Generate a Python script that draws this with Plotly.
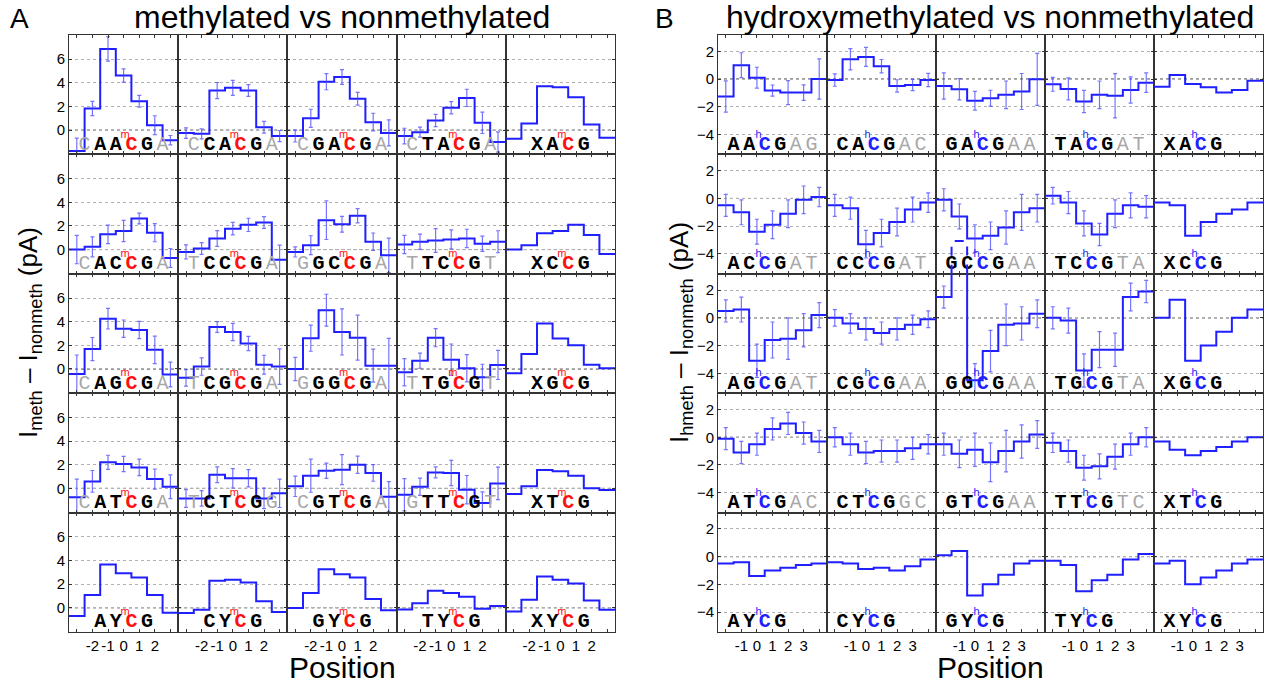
import plotly.graph_objects as go

W, H = 1265, 686

# ---------------- data ----------------
pos_A = [-3, -2, -1, 0, 1, 2, 3]
pos_B = [-2, -1, 0, 1, 2, 3, 4]
xlabels_A = [-2, -1, 0, 1, 2]
xlabels_B = [-1, 0, 1, 2, 3]
yticks_A = [0, 2, 4, 6]
yticks_B = [-4, -2, 0, 2]

A_seq_row1 = ["CAACGA", "CCACGA", "CGACGA", "CTACGA", "XACG"]
A_seq_row2 = ["CACCGA", "TCCCGA", "GGCCGA", "TTCCGT", "XCCG"]
A_seq_row3 = ["CAGCGA", "TCGCGA", "GGGCGA", "TTGCGT", "XGCG"]
A_seq_row4 = ["CATCGA", "TCTCGG", "CGTCGA", "GTTCGT", "XTCG"]
A_seq_row5 = ["AYCG", "CYCG", "GYCG", "TYCG", "XYCG"]

B_seq_row1 = ["AACGAG", "CACGAC", "GACGAA", "TACGAT", "XACG"]
B_seq_row2 = ["ACCGAT", "CCCGAT", "GCCGAA", "TCCGTA", "XCCG"]
B_seq_row3 = ["AGCGAT", "CGCGAA", "GGCGAA", "TGCGTA", "XGCG"]
B_seq_row4 = ["ATCGAC", "CTCGGC", "GTCGAA", "TTCGTC", "XTCG"]
B_seq_row5 = ["AYCG", "CYCG", "GYCG", "TYCG", "XYCG"]

A_row1 = [[-1.77, 1.83, 6.87, 4.62, 2.45, 0.42, -0.85],
          [-0.25, -0.31, 3.35, 3.58, 3.35, 0.25, -0.50],
          [-0.50, 1.00, 4.10, 4.50, 2.65, 0.68, -0.23],
          [-0.50, -0.17, 0.82, 1.89, 2.73, 0.62, -1.00],
          [-0.73, 0.56, 3.72, 3.63, 2.79, 0.48, -0.65]]
A_err_row1 = [[1.10, 0.60, 1.03, 0.56, 0.50, 0.80, 0.40],
              [0.45, 0.42, 0.68, 0.63, 0.50, 0.50, 0.47],
              [0.50, 0.77, 0.68, 0.62, 0.54, 0.75, 1.10],
              [0.66, 0.42, 0.52, 0.52, 0.73, 0.90, 0.85],
              None]
A_row2 = [[0.00, 0.23, 1.29, 1.57, 2.63, 1.43, -0.71],
          [-0.20, 0.09, 0.94, 1.77, 2.09, 2.29, -0.86],
          [-0.20, 0.37, 2.49, 2.14, 2.86, 0.66, -0.49],
          [0.43, 0.66, 0.77, 0.86, 0.94, 0.49, 0.66],
          [0.00, 0.37, 1.37, 1.57, 2.09, 1.23, -0.37]]
A_err_row2 = [[1.20, 0.85, 0.78, 0.90, 0.46, 0.77, 0.80],
              [0.60, 0.50, 0.67, 0.53, 0.56, 0.50, 1.23],
              [0.43, 0.80, 1.64, 0.67, 0.60, 0.74, 1.46],
              [0.77, 0.64, 1.00, 0.80, 0.78, 0.64, 0.93],
              None]
A_row3 = [[-0.42, 1.68, 4.25, 3.41, 3.30, 1.62, -0.47],
          [-0.75, 0.20, 3.55, 3.13, 2.15, 0.36, 0.20],
          [0.00, 2.60, 4.97, 3.13, 2.65, 0.28, 0.28],
          [-0.28, 0.70, 2.65, 0.78, 0.06, -0.70, 0.34],
          [-0.36, 1.26, 3.85, 2.57, 2.00, 0.36, 0.06]]
A_err_row3 = [[1.60, 0.98, 0.87, 0.73, 0.73, 1.16, 1.05],
              [0.70, 0.73, 0.45, 0.73, 0.60, 0.80, 1.50],
              [0.98, 1.10, 1.35, 1.95, 1.90, 1.40, 2.30],
              [1.15, 0.64, 0.77, 1.33, 1.15, 1.10, 1.23],
              None]
A_row4 = [[-0.76, 0.59, 2.20, 2.06, 1.77, 0.79, 0.14],
          [-0.85, -0.85, 1.15, 0.85, 0.85, -0.85, -0.42],
          [0.17, 1.07, 1.49, 1.58, 2.00, 1.30, -0.70],
          [-0.54, 0.14, 1.35, 1.30, -0.11, -1.24, 0.42],
          [-0.48, 0.17, 1.55, 1.44, 1.07, 0.00, -0.14]]
A_err_row4 = [[1.55, 0.92, 0.60, 0.65, 0.70, 0.85, 1.00],
              [0.75, 0.66, 0.66, 0.82, 0.73, 0.87, 1.20],
              [0.86, 1.40, 0.65, 1.27, 0.73, 0.70, 1.27],
              [1.37, 0.73, 0.46, 1.06, 1.20, 0.94, 1.38],
              None]
A_row5 = [[-0.69, 1.08, 3.67, 2.92, 2.56, 1.08, -0.42],
          [-0.44, -0.17, 2.28, 2.36, 2.14, 0.56, -0.36],
          [-0.03, 1.25, 3.25, 2.83, 2.56, 0.75, -0.22],
          [-0.14, 0.39, 1.44, 1.25, 0.94, -0.08, 0.14],
          [-0.31, 0.67, 2.64, 2.36, 2.06, 0.61, -0.17]]
A_err_row5 = [None, None, None, None, None]

B_row1 = [[-1.26, 1.00, 0.10, -0.83, -0.98, -0.98, 0.00],
          [-0.07, 1.43, 1.60, 0.93, -0.50, -0.43, -0.07],
          [-0.50, -0.74, -1.57, -1.38, -1.14, -0.90, -0.02],
          [-0.38, -0.71, -1.62, -1.14, -1.21, -0.79, -0.26],
          [-0.55, 0.29, -0.36, -0.60, -0.98, -0.79, -0.12]]
B_err_row1 = [[1.13, 0.90, 0.75, 0.40, 0.86, 0.56, 1.45],
              [0.45, 0.77, 0.69, 0.48, 0.45, 0.40, 0.48],
              [0.95, 0.77, 0.68, 0.57, 1.00, 1.30, 1.88],
              [0.50, 0.80, 0.80, 1.00, 1.60, 0.95, 0.70],
              None]
B_row2 = [[-0.50, -1.00, -2.40, -1.90, -1.10, -0.10, 0.10],
          [-0.50, -0.70, -3.30, -2.50, -1.70, -0.80, -0.30],
          [-0.10, -1.30, -2.90, -2.70, -2.10, -1.00, -0.70],
          [0.20, -0.30, -1.80, -2.60, -1.10, -0.50, -0.60],
          [-0.30, -0.50, -2.70, -1.70, -1.10, -0.80, -0.30]]
B_err_row2 = [[0.80, 0.90, 0.90, 1.00, 1.00, 1.00, 0.70],
              [0.80, 0.80, 1.00, 1.00, 1.00, 0.90, 0.70],
              [0.80, 0.90, 1.00, 1.00, 1.20, 1.30, 1.00],
              [0.60, 0.80, 0.90, 0.80, 1.00, 0.90, 0.80],
              None]
B_row3 = [[0.50, 0.60, -3.10, -1.60, -1.50, -0.90, 0.20],
          [0.00, -0.40, -0.80, -1.10, -0.80, -0.50, -0.10],
          [1.50, 5.55, -4.50, -2.40, -0.50, -0.40, 0.30],
          [0.00, -0.20, -3.80, -2.30, -2.30, 1.50, 1.90],
          [0.00, 1.30, -3.10, -2.00, -1.00, 0.00, 0.60]]
B_err_row3 = [[0.80, 0.90, 1.20, 1.30, 1.50, 1.20, 0.90],
              [0.60, 0.70, 0.80, 0.80, 0.80, 0.70, 0.60],
              [0.80, 1.00, 1.20, 1.50, 1.50, 1.20, 1.00],
              [0.80, 0.90, 1.20, 1.30, 1.20, 1.00, 0.80],
              None]
B_row4 = [[-0.10, -1.10, -0.50, 0.60, 1.00, 0.30, -0.30],
          [0.00, -0.50, -1.10, -1.00, -1.00, -0.80, -0.50],
          [-0.50, -1.20, -0.90, -1.80, -1.00, -0.30, 0.20],
          [-0.40, -1.00, -2.20, -2.10, -1.40, -0.50, 0.00],
          [-0.30, -0.90, -1.30, -1.00, -0.70, -0.30, 0.00]]
B_err_row4 = [[0.80, 0.80, 0.80, 0.80, 0.80, 0.80, 0.80],
              [0.70, 0.80, 0.80, 0.80, 0.80, 0.80, 0.70],
              [0.80, 1.00, 1.20, 1.40, 1.50, 1.20, 1.00],
              [0.70, 0.80, 0.90, 0.90, 0.90, 0.80, 0.70],
              None]
B_row5 = [[-0.50, -0.40, -1.40, -1.00, -0.80, -0.60, -0.50],
          [-0.40, -0.50, -0.90, -0.80, -1.00, -0.70, -0.20],
          [0.10, 0.40, -2.80, -2.00, -1.30, -0.50, -0.30],
          [-0.30, -0.60, -2.50, -1.70, -1.30, -0.20, 0.20],
          [-0.50, -0.30, -2.00, -1.50, -1.00, -0.50, -0.20]]
B_err_row5 = [None, None, None, None, None]

# ---------------- layout helpers ----------------
YR_A = [-2.05, 8.05]
YR_B = [-5.44, 3.18]
ROW_TOP, ROW_H = 35.0, 119.4
COL_A0, COL_AW = 69.0, 109.2
COL_B0, COL_BW = 718.0, 109.0

BLUE = "#1f1fff"
ERRC = "rgba(70,70,255,0.75)"
GRAY = "#a8a8a8"
FONT = "Liberation Sans, Arial, sans-serif"
MONO = "Liberation Mono, Courier New, monospace"

panels = {
    "A": dict(pos=pos_A, labels=xlabels_A, yticks=yticks_A, yr=YR_A,
              rows=[A_row1, A_row2, A_row3, A_row4, A_row5],
              errs=[A_err_row1, A_err_row2, A_err_row3, A_err_row4, A_err_row5],
              seqs=[A_seq_row1, A_seq_row2, A_seq_row3, A_seq_row4, A_seq_row5],
              x0=COL_A0, cw=COL_AW, ccol="#ff1010", sup="m"),
    "B": dict(pos=pos_B, labels=xlabels_B, yticks=yticks_B, yr=YR_B,
              rows=[B_row1, B_row2, B_row3, B_row4, B_row5],
              errs=[B_err_row1, B_err_row2, B_err_row3, B_err_row4, B_err_row5],
              seqs=[B_seq_row1, B_seq_row2, B_seq_row3, B_seq_row4, B_seq_row5],
              x0=COL_B0, cw=COL_BW, ccol="#1f1fff", sup="h"),
}

fig = go.Figure()
layout = {}
shapes = []

def axname(n, k):
    return k if n == 1 else f"{k}{n}"

n = 0
for pi, (pname, P) in enumerate(panels.items()):
    pos = P["pos"]
    xr = [pos[0] - 0.5, pos[-1] + 0.5]
    yr = P["yr"]
    span = yr[1] - yr[0]
    upp = span / ROW_H  # data units per pixel
    letter_y = yr[0] + 9.5 * upp
    sup_y = yr[0] + 19.5 * upp
    for r in range(5):
        for c in range(5):
            n += 1
            xa, ya = axname(n, "x"), axname(n, "y")
            px0 = P["x0"] + c * P["cw"]
            top = ROW_TOP + r * ROW_H
            layout[axname(n, "xaxis")] = dict(
                domain=[px0 / W, (px0 + P["cw"]) / W], anchor=ya, range=xr,
                tickmode="array", tickvals=pos,
                ticktext=[str(v) if v in P["labels"] else " " for v in pos],
                showticklabels=(r == 4), tickangle=0, ticks="inside", ticklen=3,
                tickcolor="#333", showline=True, linecolor="#333", linewidth=1,
                mirror="ticks", showgrid=False, zeroline=False,
                tickfont=dict(family=FONT, size=15, color="black"), fixedrange=True)
            layout[axname(n, "yaxis")] = dict(
                domain=[1 - (top + ROW_H) / H, 1 - top / H], anchor=xa, range=yr,
                tickmode="array", tickvals=P["yticks"],
                showticklabels=(c == 0), ticks="inside", ticklen=3, tickcolor="#333",
                showline=True, linecolor="#333", linewidth=1, mirror="ticks",
                showgrid=True, gridcolor="#b0b0b0", griddash="dot", gridwidth=1,
                zeroline=False, tickfont=dict(family=FONT, size=15, color="black"),
                fixedrange=True)
            shapes.append(dict(type="line", xref=f"{xa} domain", yref=ya,
                               x0=0, x1=1, y0=0, y1=0, layer="below",
                               line=dict(color="#222", width=1, dash="dot")))

            vals = P["rows"][r][c]
            err = P["errs"][r][c]
            edges = [p - 0.5 for p in pos] + [pos[-1] + 0.5]
            fig.add_trace(go.Scatter(x=edges, y=vals + [vals[-1]], mode="lines",
                                     line=dict(color=BLUE, width=2, shape="hv"),
                                     xaxis=xa, yaxis=ya, hoverinfo="skip"))
            if err is not None:
                fig.add_trace(go.Scatter(x=pos, y=vals, mode="markers",
                                         marker=dict(size=1, color="rgba(0,0,0,0)"),
                                         error_y=dict(type="data", array=err,
                                                      color=ERRC, thickness=1.2, width=2),
                                         xaxis=xa, yaxis=ya, hoverinfo="skip"))
            # overflow above the cell: draw dashed in the cell above
            if r > 0 and max(vals) > yr[1]:
                above = n - 5
                ox, oy = [], []
                for i, v in enumerate(vals):
                    if v > yr[1]:
                        ox += [edges[i], edges[i], edges[i + 1], edges[i + 1], None]
                        oy += [yr[0], v - span, v - span, yr[0], None]
                fig.add_trace(go.Scatter(x=ox, y=oy, mode="lines",
                                         line=dict(color=BLUE, width=2, dash="dash"),
                                         xaxis=axname(above, "x"), yaxis=axname(above, "y"),
                                         hoverinfo="skip"))

            # sequence letters
            seq = P["seqs"][r][c]
            L = len(seq)
            if pname == "A":
                start = -2.5 if L == 6 else -1.5
                cidx = 3 if L == 6 else 2
            else:
                start = -1.5
                cidx = 2
            xs, txt, cols = [], [], []
            for i, ch in enumerate(seq):
                xs.append(start + i)
                if i == cidx:
                    txt.append(f"<b>{ch}</b>")
                    cols.append(P["ccol"])
                elif L == 6 and ((pname == "A" and i in (0, 5)) or (pname == "B" and i in (4, 5))):
                    txt.append(ch)
                    cols.append(GRAY)
                else:
                    txt.append(f"<b>{ch}</b>")
                    cols.append("black")
            fig.add_trace(go.Scatter(x=xs, y=[letter_y] * L, mode="text", text=txt,
                                     textfont=dict(family=MONO, size=20, color=cols),
                                     xaxis=xa, yaxis=ya, hoverinfo="skip", cliponaxis=False))
            fig.add_trace(go.Scatter(x=[start + cidx - 0.4], y=[sup_y], mode="text",
                                     text=[P["sup"]],
                                     textfont=dict(family=FONT, size=11, color=P["ccol"]),
                                     xaxis=xa, yaxis=ya, hoverinfo="skip", cliponaxis=False))

ann = []
def A_(x, y, t, s, **kw):
    d = dict(x=x / W, y=1 - y / H, xref="paper", yref="paper", text=t, showarrow=False,
             font=dict(family=FONT, size=s, color="black"), xanchor="center", yanchor="middle")
    d.update(kw)
    ann.append(d)

A_(342, 17, "methylated vs nonmethylated", 32)
A_(990, 17, "hydroxymethylated vs nonmethylated", 32)
A_(19, 18, "A", 28)
A_(664, 18, "B", 28)
A_(342, 667, "Position", 30)
A_(990, 667, "Position", 30)
A_(30, 333, "I<sub>meth</sub> – I<sub>nonmeth</sub> (pA)", 26, textangle=-90)
A_(681, 333, "I<sub>hmeth</sub> – I<sub>nonmeth</sub> (pA)", 26, textangle=-90)

fig.update_layout(width=W, height=H, margin=dict(l=0, r=0, t=0, b=0),
                  plot_bgcolor="white", paper_bgcolor="white", showlegend=False,
                  shapes=shapes, annotations=ann, **layout)
fig.write_html("out.html")
